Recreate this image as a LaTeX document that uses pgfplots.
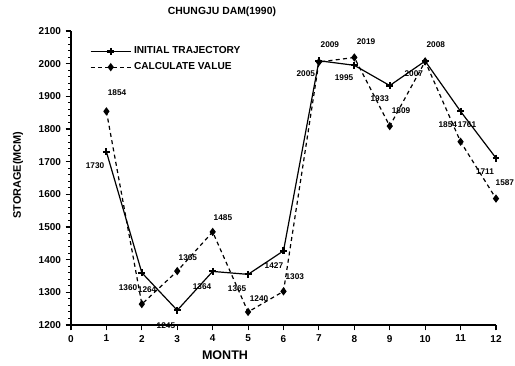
\documentclass[border=0pt]{standalone}
\usepackage{pgfplots}
\pgfplotsset{compat=1.18}
\usepackage{fontspec}
\setmainfont{Liberation Sans}
\begin{document}
\begin{tikzpicture}
\useasboundingbox (-53.25pt,-30pt) rectangle (333pt,243.75pt);
\begin{axis}[
  at={(0,0)}, anchor=south west,
  width=318.75pt, height=220.5pt, scale only axis,
  xmin=0, xmax=12, ymin=1200, ymax=2100,
  axis lines*=left,
  axis line style={line width=0.9pt},
  xtick={0,...,12}, ytick={1200,1300,...,2100},
  minor y tick num=4,
  tick align=outside,
  major tick length=4pt, minor tick length=2.2pt,
  every tick/.style={line width=0.8pt, black},
  tick label style={font=\bfseries\fontsize{7.5}{8}\selectfont},
  /pgf/number format/assume math mode=true,
  /pgf/number format/1000 sep={},
  legend style={at={(0.035,0.965)}, anchor=north west, draw=none, fill=none,
    font=\bfseries\fontsize{7.6}{9}\selectfont, row sep=1pt},
  legend cell align=left,
  legend image code/.code={\draw[mark repeat=2,mark phase=2] plot coordinates {(0pt,0pt) (15pt,0pt) (30pt,0pt)};},
  clip=false,
]
\addplot[black, line width=0.9pt, mark=+, mark size=2.6pt, mark options={solid, line width=1.6pt}]
 coordinates {(1,1730) (2,1360) (3,1245) (4,1364) (5,1355) (6,1427) (7,2009) (8,1995) (9,1933) (10,2008) (11,1854) (12,1711)};
\addlegendentry{INITIAL TRAJECTORY}
\addplot[black, line width=0.9pt, dash pattern=on 3pt off 2.5pt, mark=diamond*, mark size=2.4pt, mark options={solid}]
 coordinates {(1,1854) (2,1264) (3,1365) (4,1485) (5,1240) (6,1303) (7,2005) (8,2019) (9,1809) (10,2007) (11,1761) (12,1587)};
\addlegendentry{CALCULATE VALUE}
\tikzset{lab/.style={font=\bfseries\fontsize{6.2}{7}\selectfont, inner sep=0pt}}
\node[lab] at (axis cs:1.30,1910) {1854};
\node[lab] at (axis cs:0.68,1687) {1730};
\node[lab] at (axis cs:1.61,1313) {1360};
\node[lab] at (axis cs:2.15,1307) {1264};
\node[lab] at (axis cs:2.68,1197) {1245};
\node[lab] at (axis cs:3.30,1405) {1365};
\node[lab] at (axis cs:3.70,1316) {1364};
\node[lab] at (axis cs:4.29,1528) {1485};
\node[lab] at (axis cs:4.69,1310) {1365};
\node[lab] at (axis cs:5.31,1280) {1240};
\node[lab] at (axis cs:5.73,1381) {1427};
\node[lab] at (axis cs:6.32,1347) {1303};
\node[lab] at (axis cs:6.63,1968) {2005};
\node[lab] at (axis cs:7.31,2057) {2009};
\node[lab] at (axis cs:8.33,2066) {2019};
\node[lab] at (axis cs:7.71,1956) {1995};
\node[lab] at (axis cs:8.72,1892) {1933};
\node[lab] at (axis cs:9.32,1855) {1809};
\node[lab] at (axis cs:9.68,1968) {2007};
\node[lab] at (axis cs:10.30,2057) {2008};
\node[lab] at (axis cs:10.64,1812) {1854};
\node[lab] at (axis cs:11.18,1812) {1761};
\node[lab] at (axis cs:11.69,1668) {1711};
\node[lab] at (axis cs:12.25,1635) {1587};
\end{axis}
\node[font=\bfseries\fontsize{7.8}{9}\selectfont] at (113.25pt,234.75pt) {CHUNGJU DAM(1990)};
\node[font=\bfseries\fontsize{8.2}{9}\selectfont, rotate=90] at (-39.75pt,112.5pt) {STORAGE(MCM)};
\node[font=\bfseries\fontsize{9.4}{10}\selectfont] at (115.5pt,-22.5pt) {MONTH};
\end{tikzpicture}
\end{document}
